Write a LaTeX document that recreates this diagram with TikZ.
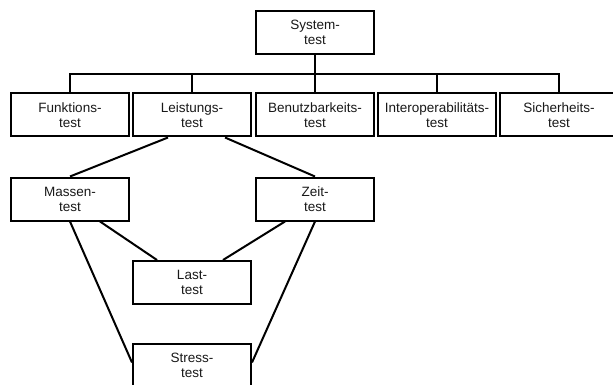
\documentclass[tikz,border=0pt]{standalone}
\usepackage{fontspec}
\setmainfont{Liberation Sans}
\usetikzlibrary{calc}
\begin{document}
\begin{tikzpicture}[x=1pt,y=-1pt,
  box/.style={draw=black,line width=2pt,fill=white,minimum width=118pt,minimum height=43pt,
    inner sep=0pt,align=center,font=\fontsize{13.5}{15}\selectfont,text=black!90},
  conn/.style={draw=black,line width=2pt}]
\useasboundingbox (0,0) rectangle (613,385);
\clip (0,0) rectangle (613,385);
\fill[white] (0,0) rectangle (613,385);
\node[box] (sys) at (315,32.5) {System-\\test};
\node[box] (fkt) at (70,115) {Funktions-\\test};
\node[box] (lst) at (192,115) {Leistungs-\\test};
\node[box] (bnz) at (315,115) {Benutzbarkeits-\\test};
\node[box] (itp) at (437,115) {Interoperabilitäts-\\test};
\node[box] (sich) at (559,115) {Sicherheits-\\test};
\coordinate (bus) at (315,74);
\draw[conn] (sys.south) -- (bus);
\draw[conn] (bus) -| (fkt.north);
\draw[conn] (bus) -| (lst.north);
\draw[conn] (bus) -- (bnz.north);
\draw[conn] (bus) -| (itp.north);
\draw[conn] (bus) -| (sich.north);
\node[box] (mas) at (70,199) {Massen-\\test};
\node[box] (zeit) at (315,199) {Zeit-\\test};
\node[box] (last) at (192,282.5) {Last-\\test};
\node[box] (stress) at (192,365) {Stress-\\test};
\draw[conn] ($(lst.south)+(-24,0)$) -- (mas.north);
\draw[conn] ($(lst.south)+(33,0)$) -- (zeit.north);
\draw[conn] ($(mas.south)+(30,0)$) -- ($(last.north)+(-35,0)$);
\draw[conn] ($(zeit.south)+(-30,0)$) -- ($(last.north)+(31,0)$);
\draw[conn] (mas.south) -- ($(stress.north west)+(0,20)$);
\draw[conn] (zeit.south) -- ($(stress.north east)+(0,20)$);
\end{tikzpicture}
\end{document}
